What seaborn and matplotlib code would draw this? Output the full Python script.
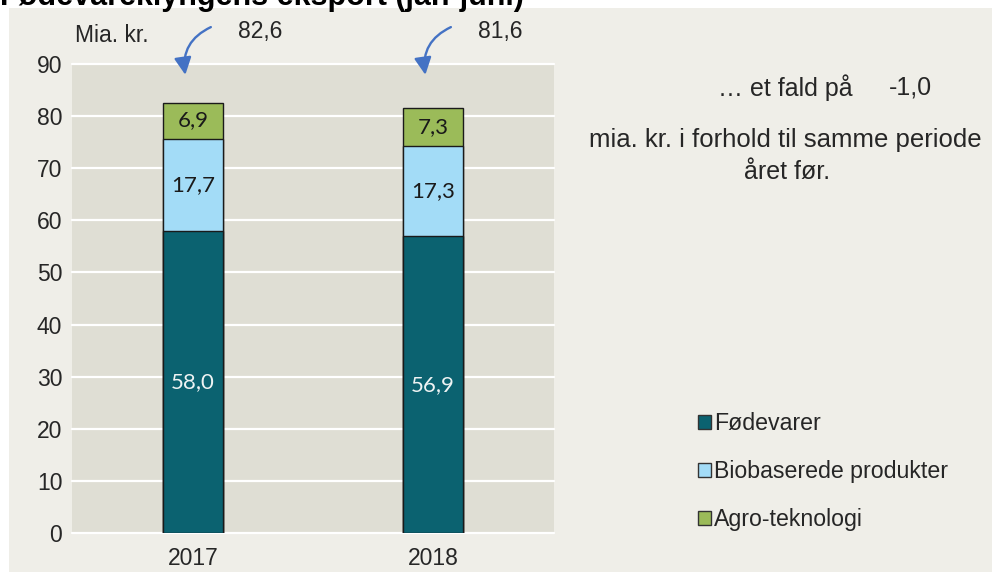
import matplotlib
matplotlib.use("Agg")
import matplotlib.pyplot as plt
import numpy as np
import pandas as pd
import seaborn as sns
from matplotlib.patches import Patch, Rectangle

# data
years = ["2017", "2018"]
foedevarer = [58.0, 56.9]
biobaserede = [17.7, 17.3]
agro = [6.9, 7.3]
totals = [82.6, 81.6]  # as printed (unrounded sums)
series_names = ["Fødevarer", "Biobaserede produkter", "Agro-teknologi"]
series_colors = ["#0B6270", "#A3DCF7", "#9BBB59"]
yticks = list(range(0, 100, 10))

PANEL = "#EFEEE8"
PLOT_BG = "#DFDED4"
TXT = "#262626"

sns.set_theme(style="white")
plt.rcParams["font.family"] = ["Liberation Sans", "DejaVu Sans"]

W, H = 992, 572
fig = plt.figure(figsize=(W / 100, H / 100), dpi=100, facecolor="white")
fig.patches.append(Rectangle((9 / W, 0), 1, 1 - 8 / H, transform=fig.transFigure,
                             facecolor=PANEL, edgecolor="none", zorder=-10))

ax = fig.add_axes([72 / W, 1 - 533 / H, (554 - 72) / W, (533 - 64) / H])
ax.set_facecolor(PLOT_BG)

# stacked bars: draw cumulative totals, tallest first
stack = [foedevarer, biobaserede, agro]
cum = np.cumsum(np.array(stack), axis=0)
for i in reversed(range(len(stack))):
    df = pd.DataFrame({"year": years, "value": cum[i]})
    sns.barplot(data=df, x="year", y="value", order=years, color=series_colors[i],
                width=0.25, edgecolor="#1A1A1A", linewidth=1.0, saturation=1,
                ax=ax, zorder=3)

# segment labels
for j in range(len(years)):
    bottom = 0
    for i, vals in enumerate(stack):
        v = vals[j]
        ax.text(j, bottom + v / 2, f"{v:.1f}".replace(".", ","), ha="center", va="center",
                fontsize=16, family=["Lato", "DejaVu Sans"],
                color="#EEF3F3" if i == 0 else "#1A1A1A", zorder=5)
        bottom += v

ax.set_xlim(-0.504, 1.504)
ax.set_ylim(0, 90)
ax.set_yticks(yticks)
ax.grid(axis="y", color="white", linewidth=1.6, zorder=1)
ax.set_axisbelow(True)
for s in ax.spines.values():
    s.set_visible(False)
ax.tick_params(axis="both", length=0, labelsize=16.5, labelcolor=TXT)
ax.tick_params(axis="y", pad=7)
ax.tick_params(axis="x", pad=10)
ax.set_xlabel("")
ax.set_ylabel("")
for gl in ax.get_ygridlines():
    gl.set_clip_on(False)

# totals with curved arrows
for j, t in enumerate(totals):
    ax.annotate("", xy=(j - 0.03, 87.4), xytext=(j + 0.085, 97.3),
                arrowprops=dict(arrowstyle="-|>", color="#4472C4", lw=1.7,
                                mutation_scale=26, connectionstyle="arc3,rad=0.4"),
                annotation_clip=False, zorder=6)
    ax.text(j + 0.28, 96.3, f"{t:.1f}".replace(".", ","), ha="center", va="center",
            fontsize=16.5, color=TXT, clip_on=False)

fig.text(112 / W, 1 - 36 / H, "Mia. kr.", ha="center", va="center", fontsize=16.5, color=TXT)

# title (cropped at the top edge in the reference)
fig.text(0, 1 - 5 / H, "Fødevareklyngens eksport (jan-juni)", ha="left", va="baseline",
         fontsize=22, fontweight="bold", color="black")

# change annotation on the right
change = totals[1] - totals[0]
fig.text(785 / W, 1 - 88 / H, "… et fald på", ha="center", va="center", fontsize=18, color=TXT)
fig.text(910 / W, 1 - 88 / H, f"{change:.1f}".replace(".", ","), ha="center", va="center",
         fontsize=18, color=TXT)
fig.text(785 / W, 1 - 140 / H, "mia. kr. i forhold til samme periode", ha="center",
         va="center", fontsize=18.5, color=TXT)
fig.text(787 / W, 1 - 172 / H, "året før.", ha="center", va="center", fontsize=18, color=TXT)

handles = [Patch(facecolor=c, edgecolor="#333333", linewidth=1.0) for c in series_colors]
fig.legend(handles, series_names, loc="upper left", bbox_to_anchor=(689 / W, 1 - 403 / H),
           frameon=False, fontsize=16.7, handlelength=0.55, handleheight=0.55,
           handletextpad=0.12, labelspacing=1.08, labelcolor=TXT, borderaxespad=0)

fig.savefig("out.png", dpi=100, facecolor="white")
